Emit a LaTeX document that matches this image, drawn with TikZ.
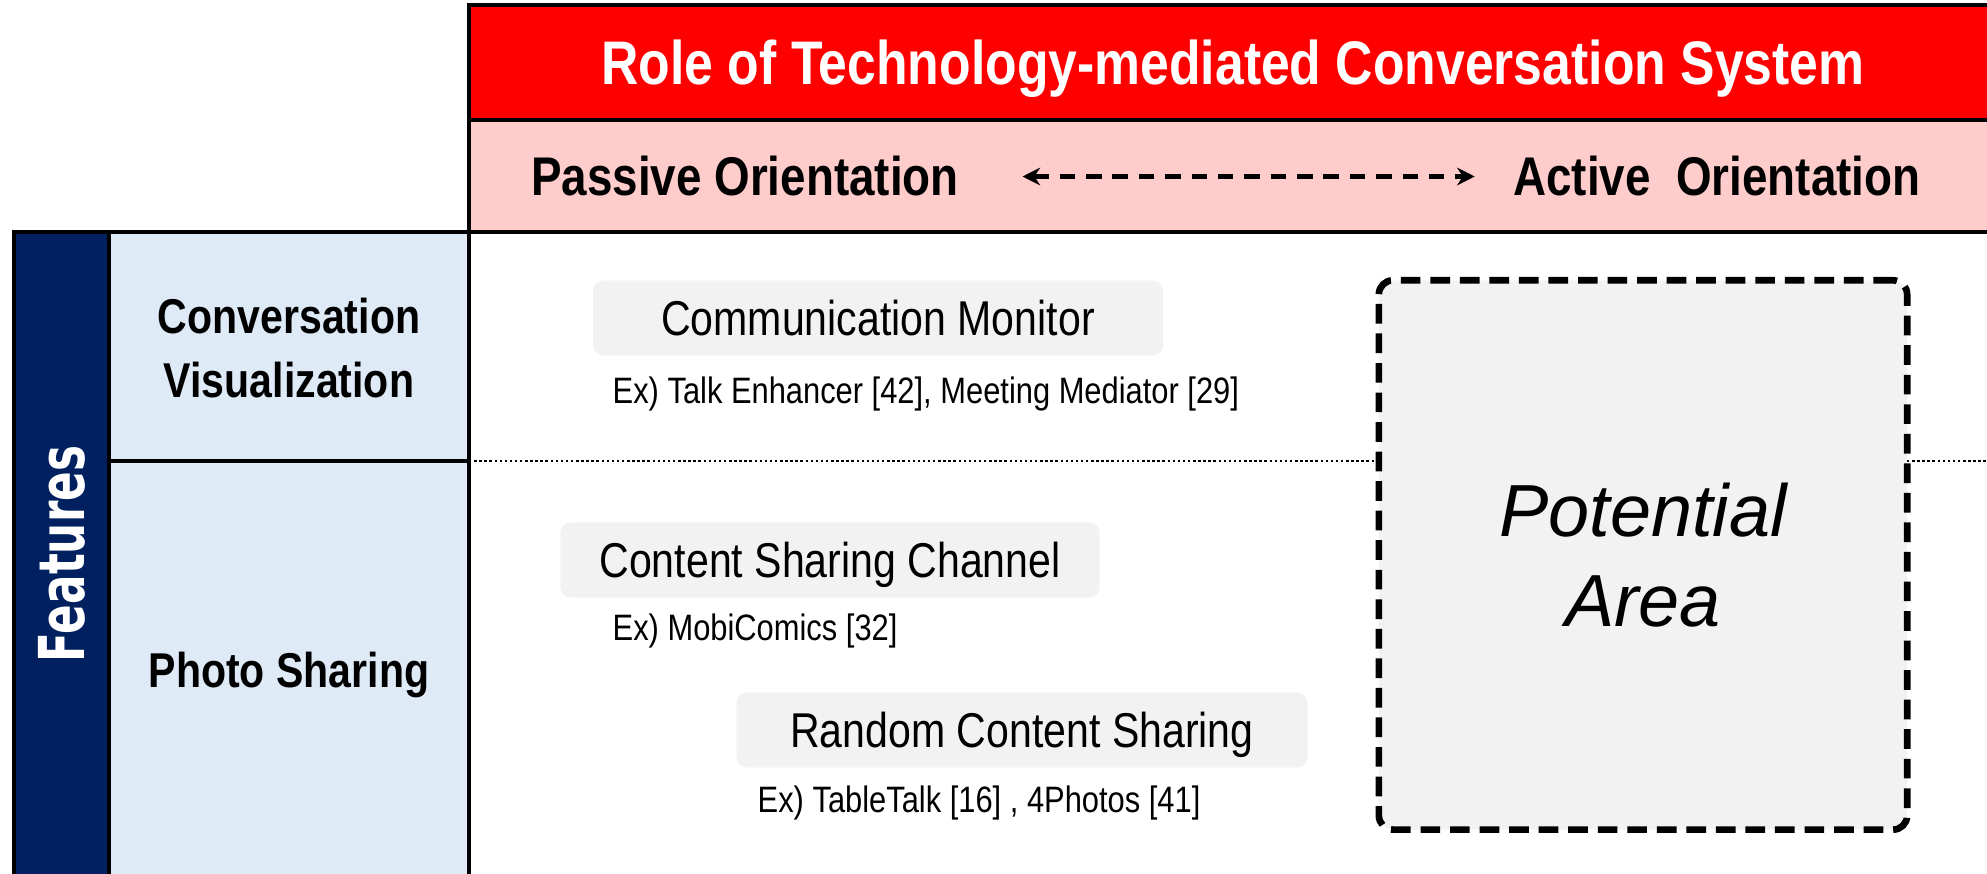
\documentclass[tikz,border=0pt]{standalone}
\usepackage{fontspec}
\setmainfont{Liberation Sans}
\newfontfamily\narrowfont[FakeStretch=0.84]{Liberation Sans}
\newfontfamily\featurefont[FakeStretch=0.69]{DejaVu Sans}
\usetikzlibrary{positioning, arrows.meta}

\definecolor{rolered}{HTML}{FF0000}
\definecolor{rolepink}{HTML}{FFCCCC}
\definecolor{featnavy}{HTML}{002060}
\definecolor{featblue}{HTML}{DEEAF6}
\definecolor{cardgray}{HTML}{F2F2F2}

\begin{document}
\begin{tikzpicture}[x=0.01cm, y=-0.01cm,
    rule/.style={line width=0.9pt},
    banner/.style={anchor=base, inner sep=0pt, text=white, font=\narrowfont\bfseries\fontsize{17.5}{20}\selectfont},
    heading/.style={anchor=base, inner sep=0pt, font=\narrowfont\bfseries\fontsize{15.5}{18}\selectfont},
    feature/.style={align=center, inner sep=0pt, font=\narrowfont\bfseries\fontsize{13.9}{18.2}\selectfont},
    approach/.style={fill=cardgray, rounded corners=3pt, inner sep=0pt, text height=10pt, text depth=0pt, minimum height=0.75cm, font=\narrowfont\fontsize{13.9}{16}\selectfont},
    example/.style={anchor=base west, inner sep=0pt, font=\narrowfont\fontsize{10.45}{12}\selectfont},
    potential/.style={draw, fill=cardgray, line width=1.9pt, dash pattern=on 5.6pt off 2.8pt, rounded corners=4pt, minimum width=5.28cm, minimum height=5.49cm, align=center, font=\itshape\fontsize{21}{25.6}\selectfont},
    flow/.style={<->, >={Stealth[length=5pt,width=5pt]}, line width=1.5pt, dash pattern=on 4.4pt off 3.1pt}]

    \useasboundingbox (0,0) rectangle (1987,874);

    % Header cells
    \fill[rolered] (469,5) rectangle (1987,120);
    \fill[rolepink] (469,120) rectangle (1987,232);

    % Feature cells
    \fill[featnavy] (14,232) rectangle (109,874);
    \fill[featblue] (109,232) rectangle (469,874);

    % Grid
    \draw[rule] (1987,5) -- (469,5) -- (469,874);
    \draw[rule] (469,120) -- (1987,120);
    \draw[rule] (14,874) -- (14,232) -- (1987,232);
    \draw[rule] (109,232) -- (109,874);
    \draw[rule] (109,461) -- (469,461);
    \draw[line width=0.7pt, dash pattern=on 0.7pt off 0.75pt] (469,461) -- (1987,461);

    % Header text
    \node[banner] (title) at (1233,85) {Role of Technology-mediated Conversation System};
    \node[heading] (passive) at (745,196) {Passive Orientation};
    \node[heading] (active) at (1717,196) {Active~~Orientation};
    \draw[flow] ([xshift=0.63cm]passive.east) -- ([xshift=-0.38cm]active.west);

    % Features
    \node[rotate=90, text=white, font=\featurefont\bfseries\fontsize{18}{20}\selectfont] (features) at (62,554) {Features};
    \node[feature] (convis) at (289,348) {Conversation\\Visualization};
    \node[feature, anchor=base] (photo) at (289,688) {Photo Sharing};

    % Approaches
    \node[approach, minimum width=5.7cm] (monitor) at (878,318) {Communication Monitor};
    \node[example] (monitorex) at (612,404) {Ex) Talk Enhancer [42], Meeting Mediator [29]};
    \node[approach, minimum width=5.39cm] (channel) at (830,560) {Content Sharing Channel};
    \node[example] (channelex) at (612,641) {Ex) MobiComics [32]};
    \node[approach, minimum width=5.71cm] (random) at (1022,730) {Random Content Sharing};
    \node[example] (randomex) at (757,813) {Ex) TableTalk [16] , 4Photos [41]};

    % Open area
    \node[potential] (area) at (1643,555) {Potential\\Area};

\end{tikzpicture}
\end{document}
